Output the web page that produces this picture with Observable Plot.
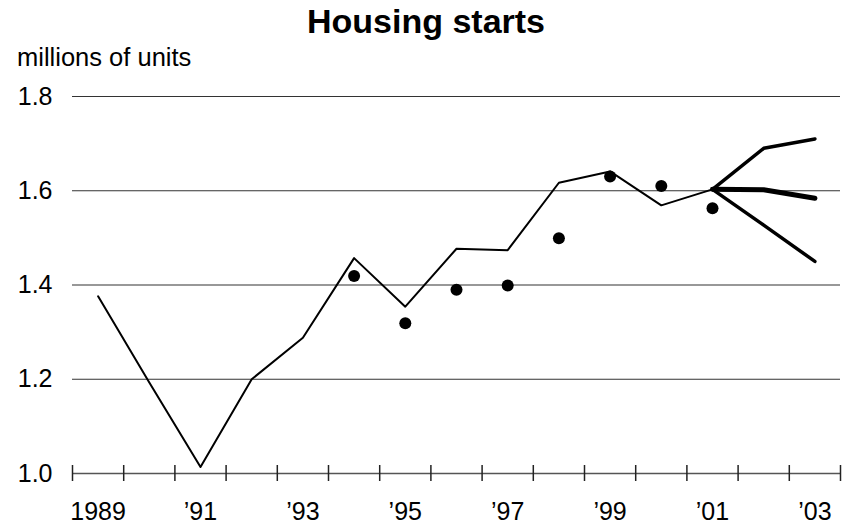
<!DOCTYPE html>
<html><head><meta charset="utf-8">
<script src="https://cdn.jsdelivr.net/npm/d3@7"></script>
<script src="https://cdn.jsdelivr.net/npm/@observablehq/plot@0.6"></script>
<style>
body{margin:0;background:#fff;font-family:"Liberation Sans",Arial,sans-serif;}
#wrap{position:relative;width:852px;height:526px;overflow:hidden;}
#title{position:absolute;left:0;width:852px;top:4px;text-align:center;font-weight:bold;font-size:34px;line-height:34px;color:#000;}
#sub{position:absolute;left:17px;top:45px;font-size:25.5px;line-height:25.5px;color:#000;}
</style></head><body>
<div id="wrap"><div id="chart"></div><div id="title">Housing starts</div><div id="sub">millions of units</div></div>
<script>
// Actual housing starts (millions of units)
const years = [1989, 1990, 1991, 1992, 1993, 1994, 1995, 1996, 1997, 1998, 1999, 2000, 2001];
const starts = [1.376, 1.193, 1.014, 1.200, 1.288, 1.457, 1.354, 1.477, 1.474, 1.617, 1.641, 1.569, 1.603];
// Dots
const dotYears = [1994, 1995, 1996, 1997, 1998, 1999, 2000, 2001];
const dotValues = [1.419, 1.319, 1.390, 1.399, 1.499, 1.630, 1.610, 1.563];
// Forecast scenarios
const forecastYears = [2001, 2002, 2003];
const forecastHigh = [1.603, 1.690, 1.710];
const forecastMid = [1.603, 1.602, 1.584];
const forecastLow = [1.603, 1.527, 1.450];
// Axes
const yTicks = [1.0, 1.2, 1.4, 1.6, 1.8];
const gridTicks = [1.2, 1.4, 1.6, 1.8];
const tickBoundaries = d3.range(1989, 2005);
const xLabelYears = [1989, 1991, 1993, 1995, 1997, 1999, 2001, 2003];
const xLabels = ["1989", "\u201991", "\u201993", "\u201995", "\u201997", "\u201999", "\u201901", "\u201903"];

const mid = y => y + 0.5;
const series = (ys, vs) => ys.map((y, i) => ({x: mid(y), v: vs[i]}));

const chart = Plot.plot({
  width: 852,
  height: 526,
  marginLeft: 72,
  marginRight: 12,
  marginTop: 96,
  marginBottom: 53,
  style: {fontFamily: "Liberation Sans, Arial, sans-serif", fontSize: "25px", color: "#000", background: "#fff"},
  x: {domain: [1989, 2004], axis: null},
  y: {domain: [1.0, 1.8], axis: null},
  marks: [
    Plot.ruleY(gridTicks, {stroke: "#333", strokeWidth: 1.2}),
    Plot.ruleY([1.0], {stroke: "#555", strokeWidth: 1.5}),
    Plot.ruleX(tickBoundaries, {x: d => d, y1: 1.0, y2: 1.0, insetTop: -8, insetBottom: -8, stroke: "#222", strokeWidth: 1.5}),
    Plot.axisY({ticks: yTicks, tickSize: 0, tickPadding: 20, tickFormat: d => d.toFixed(1), label: null, fontSize: 25}),
    Plot.axisX({ticks: xLabelYears.map(mid), tickSize: 0, tickPadding: 29, tickFormat: (d, i) => xLabels[i], label: null, fontSize: 25}),
    Plot.line(series(years, starts), {x: "x", y: "v", stroke: "#000", strokeWidth: 2}),
    Plot.line(series(forecastYears, forecastHigh), {x: "x", y: "v", stroke: "#000", strokeWidth: 3.5, strokeLinecap: "round"}),
    Plot.line(series(forecastYears, forecastLow), {x: "x", y: "v", stroke: "#000", strokeWidth: 3.5, strokeLinecap: "round"}),
    Plot.line(series(forecastYears, forecastMid), {x: "x", y: "v", stroke: "#000", strokeWidth: 5, strokeLinecap: "round"}),
    Plot.dot(series(dotYears, dotValues), {x: "x", y: "v", r: 6, fill: "#000", stroke: "none"})
  ]
});
document.getElementById("chart").appendChild(chart);
</script>
</body></html>
